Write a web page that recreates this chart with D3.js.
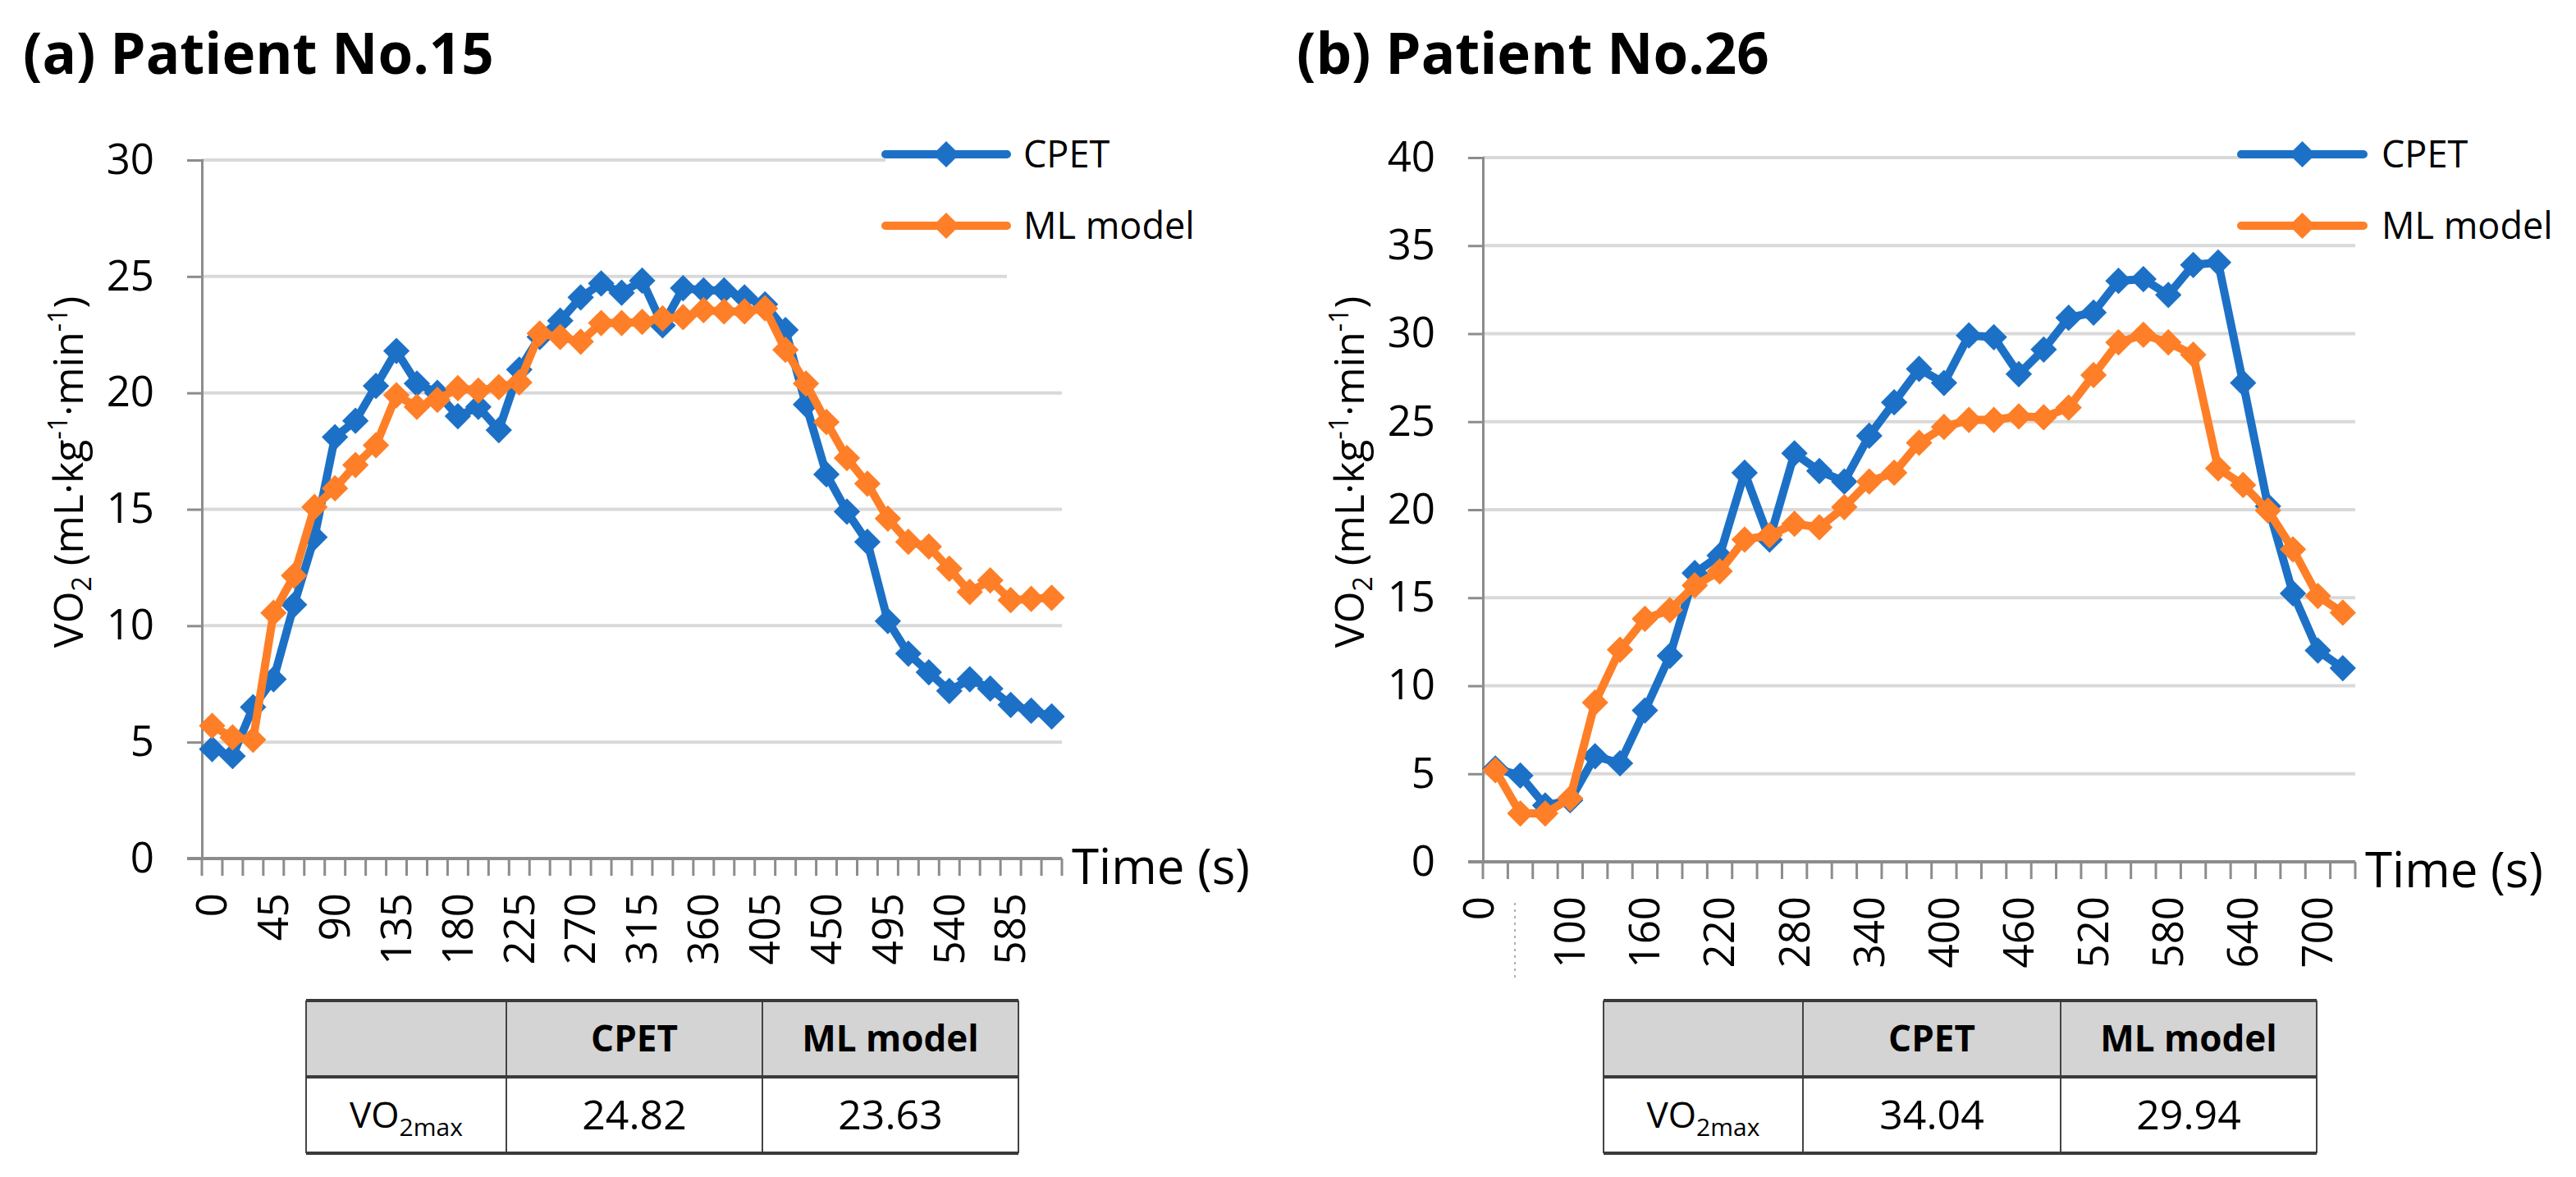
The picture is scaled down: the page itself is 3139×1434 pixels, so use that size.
<!DOCTYPE html>
<html lang="en">
<head>
  <meta charset="UTF-8">
  <title>VO2 CPET vs ML model</title>
  <script src="https://d3js.org/d3.v7.min.js"></script>
  <style>
    body {
      margin: 0;
      background: white;
      font-family: "Open Sans", sans-serif;
    }
    text { fill: #000; }
  </style>
</head>
<body>
  <div id="chart"></div>
  <script>
    // ---- data ----
    const timesA = [0,15,30,45,60,75,90,105,120,135,150,165,180,195,210,225,240,255,270,285,300,
                    315,330,345,360,375,390,405,420,435,450,465,480,495,510,525,540,555,570,585,600,615];
    const cpetA = [4.7,4.4,6.5,7.7,10.9,13.8,18.1,18.8,20.3,21.8,20.4,20.0,19.0,19.4,18.4,21.0,22.4,
                   23.1,24.1,24.7,24.3,24.82,22.9,24.5,24.4,24.4,24.1,23.8,22.7,19.5,16.5,14.9,13.6,
                   10.2,8.8,8.0,7.2,7.7,7.3,6.6,6.35,6.1];
    const mlA = [5.7,5.2,5.1,10.55,12.15,15.1,15.9,16.9,17.75,19.9,19.4,19.7,20.2,20.1,20.25,20.45,
                 22.55,22.4,22.2,23.0,23.0,23.05,23.2,23.25,23.55,23.5,23.5,23.63,21.85,20.4,18.75,
                 17.2,16.1,14.6,13.6,13.4,12.45,11.45,11.95,11.1,11.15,11.2];
    const tickLabelsA = ["0","45","90","135","180","225","270","315","360","405","450","495","540","585"];

    const timesB = [40,60,80,100,120,140,160,180,200,220,240,260,280,300,320,340,360,380,400,420,
                    440,460,480,500,520,540,560,580,600,620,640,660,680,700,720];
    const cpetB = [5.3,4.9,3.2,3.5,6.0,5.6,8.6,11.7,16.4,17.4,22.1,18.3,23.2,22.2,21.6,24.2,26.1,28.0,
                   27.2,29.9,29.8,27.7,29.1,30.9,31.2,33.0,33.1,32.2,33.9,34.04,27.2,20.2,15.25,12.0,11.0];
    const mlB = [5.2,2.75,2.75,3.6,9.05,12.05,13.8,14.3,15.7,16.5,18.3,18.55,19.2,19.0,20.15,21.6,22.1,
                 23.8,24.7,25.1,25.1,25.3,25.25,25.8,27.65,29.5,29.94,29.5,28.8,22.35,21.4,19.95,17.75,15.1,14.15];
    const tickLabelsB = ["0","100","160","220","280","340","400","460","520","580","640","700"];

    const seriesNames = ["CPET", "ML model"];
    const tableHeader = ["", "CPET", "ML model"];
    const vo2maxA = ["24.82", "23.63"];
    const vo2maxB = ["34.04", "29.94"];

    const colors = { "CPET": "#1c71c6", "ML model": "#fe7f27" };

    const W = 3139, H = 1434;
    const svg = d3.select("#chart").append("svg")
      .attr("width", W).attr("height", H)
      .attr("viewBox", [0, 0, W, H]);

    const diamond = d3.symbol(d3.symbolSquare, 520);

    function drawPanel(cfg) {
      const g = svg.append("g");
      const { left, right, top, bottom } = cfg.plot;

      const x = d3.scaleBand().domain(cfg.times).range([left, right]);
      const y = d3.scaleLinear().domain([0, cfg.yMax]).range([bottom, top]);
      const bw = x.bandwidth();
      const cx = t => x(t) + bw / 2;

      // title
      g.append("text")
        .attr("x", cfg.titleX).attr("y", 90)
        .attr("font-size", 69).attr("font-weight", 700)
        .text(cfg.title);

      // gridlines
      const yTicks = d3.range(0, cfg.yMax + 1, 5);
      g.append("g").selectAll("line")
        .data(yTicks.filter(v => v > 0))
        .join("line")
        .attr("x1", left).attr("x2", right)
        .attr("y1", d => y(d)).attr("y2", d => y(d))
        .attr("stroke", "#d9d9d9").attr("stroke-width", 4);

      // y axis
      const yAxis = g.append("g")
        .attr("transform", `translate(${left},0)`)
        .call(d3.axisLeft(y).tickValues(yTicks).tickSize(18).tickPadding(40));
      yAxis.select(".domain").attr("stroke", "#8c8c8c").attr("stroke-width", 3);
      yAxis.selectAll(".tick line").attr("stroke", "#8c8c8c").attr("stroke-width", 3);
      yAxis.selectAll(".tick text")
        .attr("font-size", 51).attr("font-family", "Open Sans").attr("fill", "#000");

      // x axis: line + ticks at band edges
      const edges = cfg.times.map(t => x(t)).concat([right]);
      g.append("g").selectAll("line")
        .data(edges)
        .join("line")
        .attr("x1", d => d).attr("x2", d => d)
        .attr("y1", bottom).attr("y2", bottom + 21)
        .attr("stroke", "#8c8c8c").attr("stroke-width", 3);
      g.append("line")
        .attr("x1", left - 18).attr("x2", right)
        .attr("y1", bottom).attr("y2", bottom)
        .attr("stroke", "#8c8c8c").attr("stroke-width", 4);

      g.append("g").selectAll("text")
        .data(cfg.tickLabels)
        .join("text")
        .attr("transform", (d, i) => {
          const tx = cx(cfg.times[i * 3]) + (i === 0 ? cfg.firstShift : 0);
          return `translate(${tx},${bottom + 42}) rotate(-90)`;
        })
        .attr("text-anchor", "end")
        .attr("dy", "0.35em")
        .attr("font-size", 51)
        .text(d => d);

      if (cfg.dotted) {
        g.append("line")
          .attr("x1", cfg.dotted.x).attr("x2", cfg.dotted.x)
          .attr("y1", cfg.dotted.y1).attr("y2", cfg.dotted.y2)
          .attr("stroke", "#b0b0b0").attr("stroke-width", 2)
          .attr("stroke-dasharray", "3,5");
      }

      g.append("text")
        .attr("x", right + 12).attr("y", bottom + 31)
        .attr("font-size", 60)
        .text("Time (s)");

      // y axis title
      const yt = g.append("text")
        .attr("transform", `translate(${left - 145},575) rotate(-90)`)
        .attr("text-anchor", "middle")
        .attr("font-size", 50);
      yt.append("tspan").text("VO");
      yt.append("tspan").attr("font-size", 32).attr("dy", 10).text("2");
      yt.append("tspan").attr("dy", -10).text(" (mL·kg");
      yt.append("tspan").attr("font-size", 32).attr("dy", -19).text("-1");
      yt.append("tspan").attr("dy", 19).text("·min");
      yt.append("tspan").attr("font-size", 32).attr("dy", -19).text("-1");
      yt.append("tspan").attr("dy", 19).text(")");

      // series
      const line = d3.line().x(d => cx(d[0])).y(d => y(d[1]));
      const series = [
        { name: "CPET", values: cfg.times.map((t, i) => [t, cfg.cpet[i]]) },
        { name: "ML model", values: cfg.times.map((t, i) => [t, cfg.ml[i]]) }
      ];
      series.forEach(s => {
        const sg = g.append("g");
        sg.append("path")
          .datum(s.values)
          .attr("d", line)
          .attr("fill", "none")
          .attr("stroke", colors[s.name])
          .attr("stroke-width", 10)
          .attr("stroke-linejoin", "round");
        sg.selectAll("path.m")
          .data(s.values)
          .join("path")
          .attr("class", "m")
          .attr("d", diamond)
          .attr("transform", d => `translate(${cx(d[0])},${y(d[1])}) rotate(45)`)
          .attr("fill", colors[s.name]);
      });

      // legend
      const lg = g.append("g");
      cfg.legend.bg.forEach(r => {
        lg.append("rect").attr("x", r[0]).attr("y", r[1]).attr("width", r[2]).attr("height", r[3])
          .attr("fill", "white");
      });
      seriesNames.forEach((name, i) => {
        const ly = cfg.legend.ys[i];
        lg.append("line")
          .attr("x1", cfg.legend.x0).attr("x2", cfg.legend.x1)
          .attr("y1", ly).attr("y2", ly)
          .attr("stroke", colors[name]).attr("stroke-width", 10)
          .attr("stroke-linecap", "round");
        lg.append("path")
          .attr("d", diamond)
          .attr("transform", `translate(${(cfg.legend.x0 + cfg.legend.x1) / 2},${ly}) rotate(45)`)
          .attr("fill", colors[name]);
        lg.append("text")
          .attr("x", cfg.legend.textX).attr("y", ly)
          .attr("dy", "0.35em")
          .attr("font-size", 45)
          .text(name);
      });

      // table
      const tb = g.append("g");
      const tx = cfg.table.xs, ty = [1219, 1312, 1405];
      tb.append("rect")
        .attr("x", tx[0]).attr("y", ty[0])
        .attr("width", tx[3] - tx[0]).attr("height", ty[1] - ty[0])
        .attr("fill", "#d4d4d4");
      tb.selectAll("line.v")
        .data(tx)
        .join("line")
        .attr("class", "v")
        .attr("x1", d => d).attr("x2", d => d)
        .attr("y1", ty[0]).attr("y2", ty[2])
        .attr("stroke", "#444").attr("stroke-width", 2);
      tb.selectAll("line.h")
        .data(ty)
        .join("line")
        .attr("class", "h")
        .attr("x1", tx[0]).attr("x2", tx[3])
        .attr("y1", d => d).attr("y2", d => d)
        .attr("stroke", "#3a3a3a").attr("stroke-width", 4);

      tableHeader.forEach((h, i) => {
        if (!h) return;
        tb.append("text")
          .attr("x", (tx[i] + tx[i + 1]) / 2).attr("y", (ty[0] + ty[1]) / 2)
          .attr("dy", "0.35em")
          .attr("text-anchor", "middle")
          .attr("font-size", 44).attr("font-weight", 700)
          .text(h);
      });
      const lab = tb.append("text")
        .attr("x", (tx[0] + tx[1]) / 2).attr("y", (ty[1] + ty[2]) / 2)
        .attr("dy", "0.35em")
        .attr("text-anchor", "middle")
        .attr("font-size", 44);
      lab.append("tspan").text("VO");
      lab.append("tspan").attr("font-size", 30).attr("dy", 10).text("2max");
      cfg.vo2max.forEach((v, i) => {
        tb.append("text")
          .attr("x", (tx[i + 1] + tx[i + 2]) / 2).attr("y", (ty[1] + ty[2]) / 2)
          .attr("dy", "0.35em")
          .attr("text-anchor", "middle")
          .attr("font-size", 50)
          .text(v);
      });
    }

    drawPanel({
      title: "(a) Patient No.15", titleX: 28,
      plot: { left: 246, right: 1294, top: 195, bottom: 1046 },
      yMax: 30, times: timesA, cpet: cpetA, ml: mlA,
      tickLabels: tickLabelsA, firstShift: 0,
      legend: { x0: 1079, x1: 1227, textX: 1247, ys: [188, 275],
                bg: [[1079, 150, 420, 150], [1227, 300, 270, 50]] },
      table: { xs: [373, 617, 929, 1241] },
      vo2max: vo2maxA
    });

    drawPanel({
      title: "(b) Patient No.26", titleX: 1580,
      plot: { left: 1807, right: 2870, top: 192, bottom: 1050 },
      yMax: 40, times: timesB, cpet: cpetB, ml: mlB,
      tickLabels: tickLabelsB, firstShift: -20,
      dotted: { x: 1846, y1: 1100, y2: 1193 },
      legend: { x0: 2731, x1: 2880, textX: 2902, ys: [188, 275],
                bg: [[2731, 150, 408, 110]] },
      table: { xs: [1954, 2197, 2511, 2823] },
      vo2max: vo2maxB
    });
  </script>
</body>
</html>
